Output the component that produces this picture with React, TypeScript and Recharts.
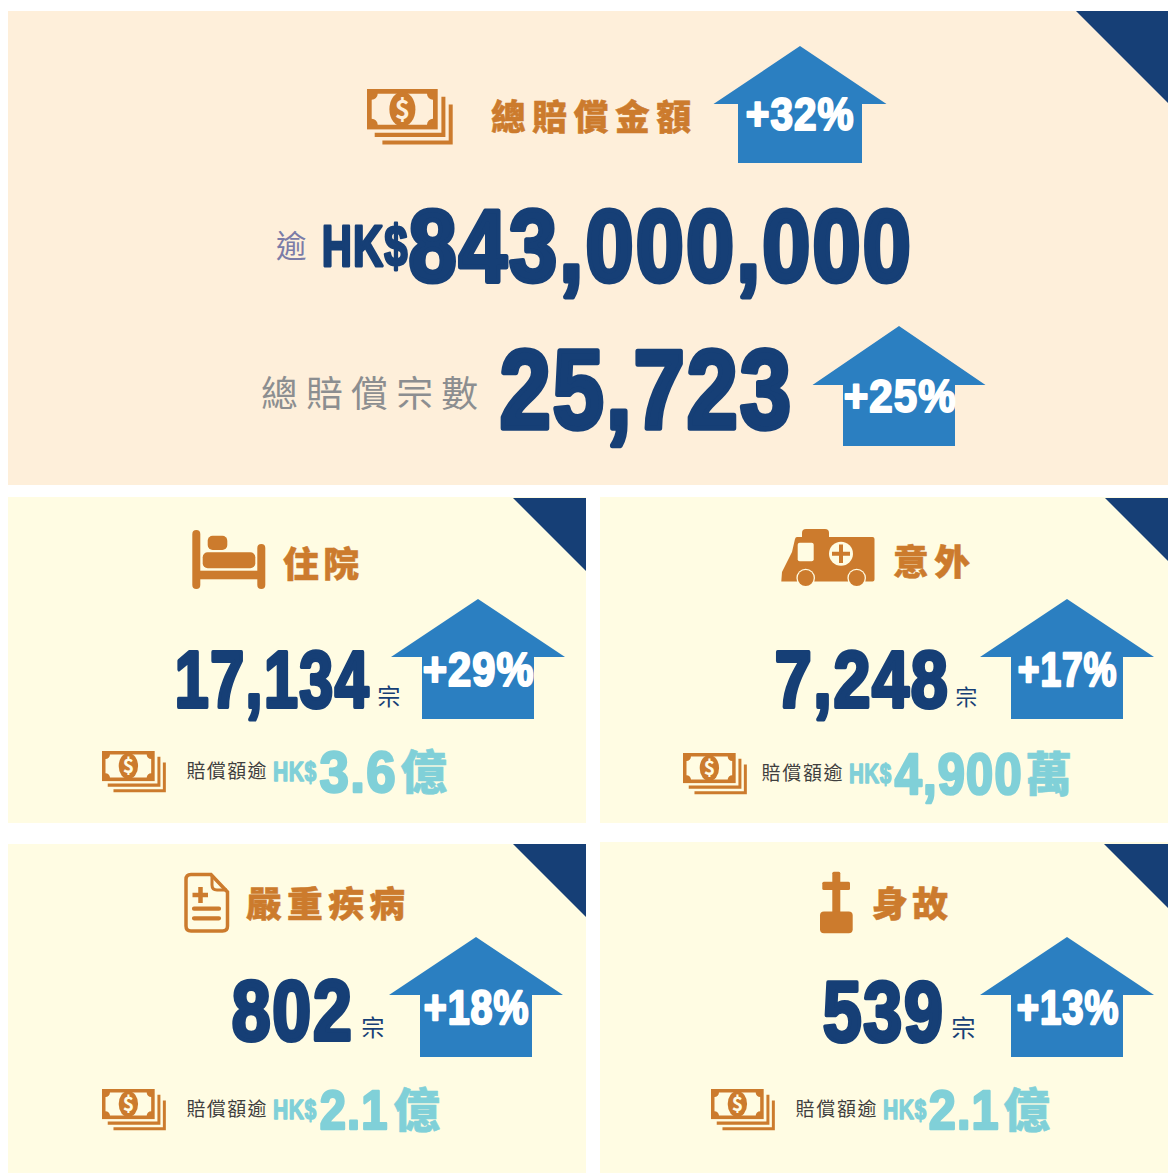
import React from "react";
import { ComposedChart, Scatter, XAxis, YAxis, ReferenceArea } from "recharts";

// ---- values ----
const totalAmountLabel = "總賠償金額";
const totalCasesLabel = "總賠償宗數";
const totalAmount = 843000000;
const totalCases = 25723;
const totalGrowth = [32, 25];
const categories = ["住院", "意外", "嚴重疾病", "身故"];
const caseCounts = [17134, 7248, 802, 539];
const caseGrowth = [29, 17, 18, 13];
const amountFigures = ["3.6", "4,900", "2.1", "2.1"];
const amountUnits = ["億", "萬", "億", "億"];
const amountLabel = "賠償額逾";
const overLabel = "逾";
const currency = "HK$";
const caseUnit = "宗";

// ---- colours and fonts ----
const ORANGE = "#CC7B2D";
const NAVY = "#163F76";
const BLUE = "#2B7FC1";
const TEAL = "#80D0D8";
const GREY = "#8C8E90";
const PURPLE = "#7B7CA8";
const INK = "#3F3F3F";
const PEACH = "#FEEFDA";
const CREAM = "#FFFCE3";
const W = 1168;
const H = 1174;
const CJK = '"Noto Sans CJK TC", sans-serif';
const HEAVY = '"Liberation Sans Narrow", "Liberation Sans", sans-serif';

// ---- layout ----
const panels = [
  { x1: 8, x2: 1168, y1: 11, y2: 485, fill: PEACH },
  { x1: 8, x2: 586, y1: 497, y2: 823, fill: CREAM },
  { x1: 600, x2: 1168, y1: 497, y2: 823, fill: CREAM },
  { x1: 8, x2: 586, y1: 844, y2: 1173, fill: CREAM },
  { x1: 600, x2: 1168, y1: 842, y2: 1173, fill: CREAM },
];
const corners = [
  { x: 1168, y: 11, leg: 92 },
  { x: 586, y: 498, leg: 73 },
  { x: 1168, y: 498, leg: 63 },
  { x: 586, y: 844, leg: 73 },
  { x: 1168, y: 844, leg: 64 },
];
const arrows = [
  { x: 800, y: 46, wing: 86.5, body: 62, drop: 58, tall: 117 },
  { x: 899, y: 326, wing: 86.5, body: 56, drop: 59, tall: 120 },
  { x: 478, y: 599, wing: 87, body: 56, drop: 58, tall: 120 },
  { x: 1067, y: 599, wing: 87, body: 56, drop: 58, tall: 120 },
  { x: 476, y: 937, wing: 87, body: 56, drop: 58, tall: 120 },
  { x: 1067, y: 937, wing: 87, body: 56, drop: 58, tall: 120 },
];
const arrowTextBoxes = [
  [746, 853, 95, 131],
  [844, 955, 378, 413],
  [423, 533, 650, 687],
  [1018, 1116, 650, 687],
  [424, 528, 988, 1025],
  [1017, 1118, 988, 1025],
];
const cardBoxes = [
  { title: [284, 358, 546, 580], count: [175, 368, 647, 709], unit: [378, 402, 685, 707], label: [187, 266, 761, 779], cur: [273, 316, 761, 782], fig: [320, 395, 749, 793], suf: [402, 445, 748, 792] },
  { title: [894, 969, 544, 578], count: [775, 947, 647, 709], unit: [956, 977, 686, 707], label: [762, 842, 763, 781], cur: [849, 891, 763, 784], fig: [895, 1021, 751, 795], suf: [1027, 1069, 750, 794] },
  { title: [247, 404, 886, 920], count: [232, 351, 977, 1042], unit: [362, 385, 1016, 1038], label: [187, 266, 1099, 1117], cur: [273, 316, 1098, 1120], fig: [320, 387, 1087, 1130], suf: [395, 438, 1086, 1130] },
  { title: [873, 947, 886, 920], count: [823, 942, 978, 1043], unit: [952, 975, 1016, 1039], label: [796, 876, 1099, 1117], cur: [883, 926, 1098, 1120], fig: [929, 998, 1087, 1130], suf: [1005, 1048, 1086, 1130] },
];
const moneyIcons = [
  { x: 367, y: 89, k: 1 },
  { x: 102, y: 751, k: 0.745 },
  { x: 683, y: 753, k: 0.745 },
  { x: 102, y: 1089, k: 0.745 },
  { x: 711, y: 1089, k: 0.745 },
];
const shapeIcons = [
  { x: 90, y: 500, kind: "bed" },
  { x: 775, y: 522, kind: "ambulance" },
  { x: 175, y: 865, kind: "document" },
  { x: 670, y: 850, kind: "cross" },
];

// ---- text helpers: every entry keeps its box apart from the values ----
type Box = number[];
const GAP = 0.025;
const BEARING = 0.028;
const ADVANCE: Record<string, number> = { ",": 0.228, ".": 0.228, "+": 0.479, "%": 0.729, H: 0.592, K: 0.592, $: 0.456 };
const naturalWidth = (s: string) =>
  s.split("").reduce((sum, ch) => sum + (ADVANCE[ch] ?? 0.456) + GAP, 0);

const heavy = (text: string, b: Box, color: string) => {
  const [l, r, t, bot] = b;
  const sizeTall = (bot - t) / 0.77;
  const size = (r - l) / (naturalWidth(text) - 2 * BEARING - GAP);
  const sw = Math.min(size, sizeTall) * 0.05;
  const bearing = BEARING * size;
  return {
    x: l + sw / 2 - bearing,
    y: bot - sw / 2,
    text,
    size,
    sy: sizeTall / size,
    gap: GAP * size,
    color,
    family: HEAVY,
    weight: 700,
    sw,
    len: r - l - sw + 2 * bearing + GAP * size,
    adjust: "spacingAndGlyphs",
  };
};
const cjk = (text: string, b: Box, color: string, weight: number, sw: number) => {
  const [l, r, t, bot] = b;
  const size = (bot - t) / 0.95;
  return { x: l - size * 0.03, y: bot - size * 0.075, text, size, sy: 1, gap: 0, color, family: CJK, weight, sw, len: text.length > 1 ? r - l + size * 0.06 : 0, adjust: "spacing" };
};
const pct = (v: number) => `+${v}%`;
const num = (v: number) => v.toLocaleString("en-US");

const textMarks = [
  cjk(totalAmountLabel, [492, 690, 100, 133], ORANGE, 900, 0.5),
  cjk(overLabel, [277, 306, 230, 259], PURPLE, 400, 0),
  heavy(currency, [322, 407, 223, 267], NAVY),
  heavy(num(totalAmount), [409, 910, 205, 284], NAVY),
  cjk(totalCasesLabel, [262, 477, 375, 410], GREY, 400, 0),
  heavy(num(totalCases), [500, 790, 345, 431], NAVY),
  ...[...totalGrowth, ...caseGrowth].map((v, i) => heavy(pct(v), arrowTextBoxes[i], "#FFFFFF")),
  ...categories.flatMap((c, i) => {
    const b = cardBoxes[i];
    return [
      cjk(c, b.title, ORANGE, 900, 0.5),
      heavy(num(caseCounts[i]), b.count, NAVY),
      cjk(caseUnit, b.unit, NAVY, 400, 0),
      cjk(amountLabel, b.label, INK, 400, 0),
      heavy(currency, b.cur, TEAL),
      heavy(amountFigures[i], b.fig, TEAL),
      cjk(amountUnits[i], b.suf, TEAL, 900, 0.6),
    ];
  }),
];

const TextMark = (p: any) => {
  const d = p.payload;
  return (
    <text
      transform={`translate(${p.cx},${p.cy}) scale(1,${d.sy})`}
      fontFamily={d.family}
      fontSize={d.size}
      fontWeight={d.weight}
      fill={d.color}
      stroke={d.sw ? d.color : "none"}
      strokeWidth={d.sw}
      strokeLinejoin="round"
      letterSpacing={d.gap || undefined}
      textLength={d.len || undefined}
      lengthAdjust={d.len ? d.adjust : undefined}
    >
      {d.text}
    </text>
  );
};

const CornerMark = (p: any) => {
  const { leg } = p.payload;
  return <path d={`M${p.cx - leg},${p.cy}L${p.cx},${p.cy}L${p.cx},${p.cy + leg}Z`} fill={NAVY} />;
};

const ArrowMark = (p: any) => {
  const { wing, body, drop, tall } = p.payload;
  const { cx: x, cy: y } = p;
  return (
    <path
      d={`M${x},${y}L${x + wing},${y + drop}H${x + body}V${y + tall}H${x - body}V${y + drop}H${x - wing}Z`}
      fill={BLUE}
    />
  );
};

const MoneyMark = (p: any) => {
  const bg = p.index === 0 ? PEACH : CREAM;
  return (
    <g transform={`translate(${p.cx},${p.cy}) scale(${p.payload.k})`}>
      <path d="M7.7,43.7H74.4V7.7H78.4V48H7.7Z" fill={ORANGE} />
      <path d="M15.4,51.4H81.7V15.4H85.7V55.4H15.4Z" fill={ORANGE} />
      <rect x={0} y={0} width={70.7} height={40.4} fill={ORANGE} />
      <path d="M10.7,4.7H60A6,6 0 0 0 66,10.7V29.7A6,6 0 0 0 60,35.7H10.7A6,6 0 0 0 4.7,29.7V10.7A6,6 0 0 0 10.7,4.7Z" fill={bg} />
      <ellipse cx={35.4} cy={20.2} rx={13} ry={17.5} fill={ORANGE} />
      <text x={35.4} y={29.5} textAnchor="middle" fontFamily={CJK} fontWeight={700} fontSize={26} fill={bg}>$</text>
    </g>
  );
};

const ShapeIconMark = (p: any) => {
  const t = `translate(${p.cx},${p.cy})`;
  switch (p.payload.kind) {
    case "bed":
      return (
        <g transform={t} fill={ORANGE}>
          <rect x={102.3} y={30} width={8} height={59} rx={4} />
          <rect x={167.3} y={44} width={8} height={45} rx={4} />
          <rect x={110} y={70.7} width={58} height={8.6} />
          <rect x={112.7} y={52.3} width={52.6} height={16} rx={5} />
          <rect x={117.7} y={35.7} width={19.6} height={14.3} rx={5} />
        </g>
      );
    case "ambulance":
      return (
        <g transform={t}>
          <path d="M27,15V11Q27,7 31,7H50Q54,7 54,11V15Z" fill={ORANGE} />
          <path d="M6.3,59.5L7,50L17,30L20,17Q20.5,15 22,15H97.5Q99.5,15 99.5,17V57.5Q99.5,59.5 97.5,59.5Z" fill={ORANGE} />
          <rect x={22.7} y={20.7} width={16} height={18.6} rx={2} fill={CREAM} />
          <circle cx={66} cy={31.7} r={12} fill={CREAM} />
          <path d="M64,22.5H68V29.7H75V33.7H68V41H64V33.7H57V29.7H64Z" fill={ORANGE} />
          <circle cx={30.7} cy={56} r={9.3} fill={CREAM} />
          <circle cx={30.7} cy={56} r={8} fill={ORANGE} />
          <circle cx={81.7} cy={56} r={9.3} fill={CREAM} />
          <circle cx={81.7} cy={56} r={8} fill={ORANGE} />
        </g>
      );
    case "document":
      return (
        <g transform={t} fill="none" stroke={ORANGE}>
          <path d="M16,9.5H36L52.5,27V61Q52.5,66 47.5,66H16Q11,66 11,61V14.5Q11,9.5 16,9.5Z" strokeWidth={3.5} />
          <path d="M37,10V20Q37,25 42,25H52" strokeWidth={3} />
          <path d="M17.5,30H33M25.5,22V38" strokeWidth={4.5} />
          <path d="M19,43.7H44M19,53.3H44" strokeWidth={4.2} strokeLinecap="round" />
        </g>
      );
    default:
      return (
        <g transform={t} fill={ORANGE}>
          <rect x={162.3} y={21.7} width={8} height={42} rx={1.5} />
          <rect x={152.3} y={31.7} width={27.7} height={8.3} rx={1.5} />
          <rect x={150} y={61.5} width={32.7} height={21.8} rx={4} />
        </g>
      );
  }
};

export default function App() {
  return (
    <div style={{ position: "absolute", left: 0, top: 0, width: W, height: H, background: "#FFFFFF" }}>
      <ComposedChart width={W} height={H} margin={{ top: 0, right: 0, bottom: 0, left: 0 }}>
        <XAxis type="number" dataKey="x" domain={[0, W]} hide allowDataOverflow />
        <YAxis type="number" dataKey="y" domain={[0, H]} reversed hide allowDataOverflow />
        {panels.map((b, i) => (
          <ReferenceArea key={i} x1={b.x1} x2={b.x2} y1={b.y1} y2={b.y2} fill={b.fill} fillOpacity={1} stroke="none" ifOverflow="visible" />
        ))}
        <Scatter data={corners} shape={CornerMark} isAnimationActive={false} />
        <Scatter data={arrows} shape={ArrowMark} isAnimationActive={false} />
        <Scatter data={moneyIcons} shape={MoneyMark} isAnimationActive={false} />
        <Scatter data={shapeIcons} shape={ShapeIconMark} isAnimationActive={false} />
        <Scatter data={textMarks} shape={TextMark} isAnimationActive={false} />
      </ComposedChart>
    </div>
  );
}
